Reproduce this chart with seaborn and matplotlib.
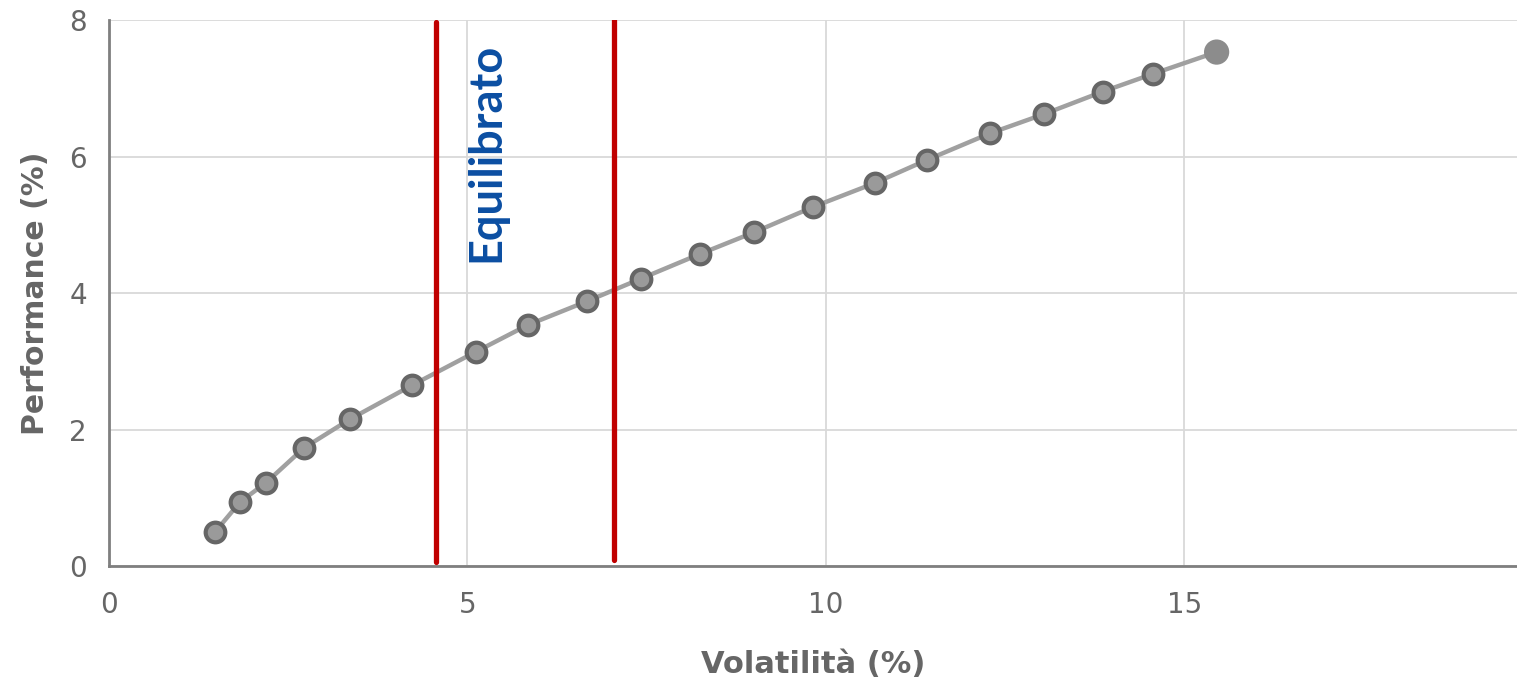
import matplotlib
matplotlib.use("Agg")
import matplotlib.pyplot as plt
import seaborn as sns
import pandas as pd

# Efficient-frontier style curve: volatility vs. performance (%)
volatility = [1.48, 1.83, 2.19, 2.72, 3.36, 4.23, 5.12, 5.84, 6.67, 7.42,
              8.24, 9.00, 9.82, 10.68, 11.41, 12.29, 13.04, 13.86, 14.56, 15.45]
performance = [0.50, 0.94, 1.22, 1.73, 2.15, 2.65, 3.14, 3.53, 3.88, 4.21,
               4.57, 4.89, 5.26, 5.61, 5.95, 6.34, 6.62, 6.95, 7.21, 7.53]

# Band boundaries for the "Equilibrato" profile
band_bounds = [4.56, 7.04]
band_label = "Equilibrato"

x_ticks = [0, 5, 10, 15]
y_ticks = [0, 2, 4, 6, 8]

df = pd.DataFrame({"vol": volatility, "perf": performance})

sns.set_theme(style="white")
plt.rcParams["font.family"] = ["DejaVu Sans"]

fig = plt.figure(figsize=(15.17, 6.82), dpi=100)
ax = fig.add_axes([109 / 1517, 116 / 682, 1408 / 1517, 546 / 682])

ax.set_xlim(0, 19.64)
ax.set_ylim(0, 8)
ax.set_xticks(x_ticks)
ax.set_yticks(y_ticks)
ax.grid(True, color="#d9d9d9", linewidth=1.3)
ax.set_axisbelow(True)

for s in ["top", "right"]:
    ax.spines[s].set_visible(False)
for s in ["left", "bottom"]:
    ax.spines[s].set_color("#7f7f7f")
    ax.spines[s].set_linewidth(2)

# connecting line
sns.lineplot(data=df, x="vol", y="perf", ax=ax, color="#a0a0a0",
             linewidth=3.2, sort=False, zorder=3)
# portfolio markers
sns.scatterplot(data=df.iloc[:-1], x="vol", y="perf", ax=ax, s=200,
                color="#9a9a9a", edgecolor="#666666", linewidth=3.0, zorder=4)
sns.scatterplot(data=df.iloc[-1:], x="vol", y="perf", ax=ax, s=330,
                color="#8c8c8c", edgecolor="none", zorder=4)

# profile band boundaries
ax.axvline(band_bounds[0], ymin=0.007, ymax=0.996, color="#c00000",
           linewidth=3.8, zorder=5)
ax.axvline(band_bounds[1], ymin=0.011, ymax=1.0, color="#c00000",
           linewidth=3.8, zorder=5)

ax.text(5.27, 4.45, band_label, rotation=90, ha="center", va="bottom",
        color="#0b4ea2", fontsize=32.5, fontweight="bold", family=["Lato"],
        zorder=6)

ax.tick_params(axis="y", labelsize=20, labelcolor="#666666", length=0, pad=16)
ax.tick_params(axis="x", labelsize=20, labelcolor="#666666", length=0, pad=18)

ax.set_xlabel("Volatilità (%)", fontsize=22, fontweight="bold",
              color="#666666", labelpad=22)
ax.set_ylabel("Performance (%)", fontsize=21.5, fontweight="bold",
              color="#666666")
ax.yaxis.set_label_coords(-0.042, 0.5)

fig.savefig("out.png", dpi=100)
